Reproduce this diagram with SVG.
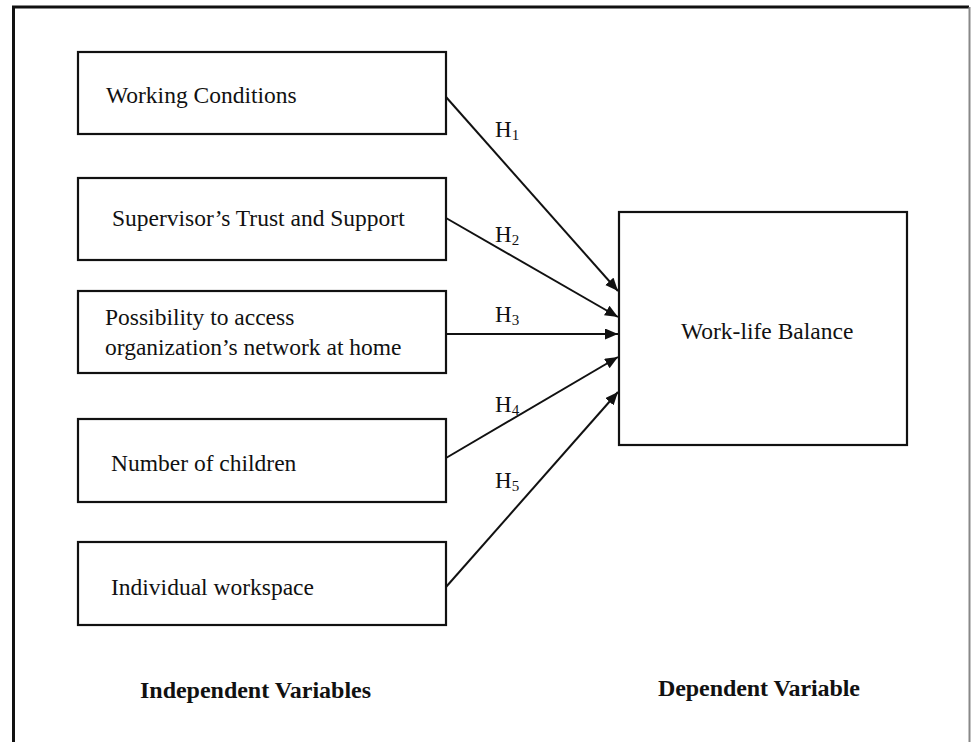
<svg xmlns="http://www.w3.org/2000/svg" width="971" height="742" viewBox="0 0 971 742">
<style>
.box{fill:#fff;stroke:#111;stroke-width:2.2}
.t{font-family:"Liberation Serif","Times New Roman",serif;font-size:23.5px;fill:#111}
.h{font-family:"Liberation Serif","Times New Roman",serif;font-size:23px;fill:#111}
.sub{font-size:15px}
.b{font-family:"Liberation Serif","Times New Roman",serif;font-size:24px;font-weight:bold;fill:#111}
.c{stroke:#111;stroke-width:2;fill:none;marker-end:url(#ah)}
</style>
<defs>
<marker id="ah" markerUnits="userSpaceOnUse" markerWidth="14" markerHeight="12" refX="13" refY="5.5" orient="auto">
<path d="M0,0 L13,5.5 L0,11 z" fill="#111"/>
</marker>
</defs>
<rect x="0" y="0" width="971" height="742" fill="#fff"/>
<path d="M13.5,742 V7 H969" fill="none" stroke="#111" stroke-width="3"/>
<line x1="969.5" y1="7" x2="969.5" y2="742" stroke="#888" stroke-width="2"/>

<g id="working-conditions">
<rect class="box" x="78" y="52" width="368" height="82"/>
<text class="t" x="106" y="103">Working Conditions</text>
</g>
<g id="supervisor-trust">
<rect class="box" x="78" y="178" width="368" height="82"/>
<text class="t" x="112" y="226">Supervisor’s Trust and Support</text>
</g>
<g id="network-access">
<rect class="box" x="78" y="291" width="368" height="82"/>
<text class="t" x="105" y="325">Possibility to access</text>
<text class="t" x="105" y="355">organization’s network at home</text>
</g>
<g id="number-of-children">
<rect class="box" x="78" y="419" width="368" height="83"/>
<text class="t" x="111" y="471">Number of children</text>
</g>
<g id="individual-workspace">
<rect class="box" x="78" y="542" width="368" height="83"/>
<text class="t" x="111" y="595">Individual workspace</text>
</g>
<g id="work-life-balance">
<rect class="box" x="619" y="212" width="288" height="233"/>
<text class="t" x="681" y="339">Work-life Balance</text>
</g>

<g id="connectors">
<line class="c" x1="446" y1="97" x2="618" y2="291"/>
<line class="c" x1="446" y1="218" x2="618" y2="317"/>
<line class="c" x1="446" y1="334" x2="618" y2="334"/>
<line class="c" x1="446" y1="458" x2="618" y2="357"/>
<line class="c" x1="446" y1="587" x2="618" y2="392"/>
<text class="h" x="495" y="137">H<tspan class="sub" dy="3">1</tspan></text>
<text class="h" x="495" y="242">H<tspan class="sub" dy="3">2</tspan></text>
<text class="h" x="495" y="322">H<tspan class="sub" dy="3">3</tspan></text>
<text class="h" x="495" y="412">H<tspan class="sub" dy="3">4</tspan></text>
<text class="h" x="495" y="488">H<tspan class="sub" dy="3">5</tspan></text>
</g>

<g id="captions">
<text class="b" x="140" y="698" textLength="231">Independent Variables</text>
<text class="b" x="658" y="696" textLength="202">Dependent Variable</text>
</g>
</svg>
